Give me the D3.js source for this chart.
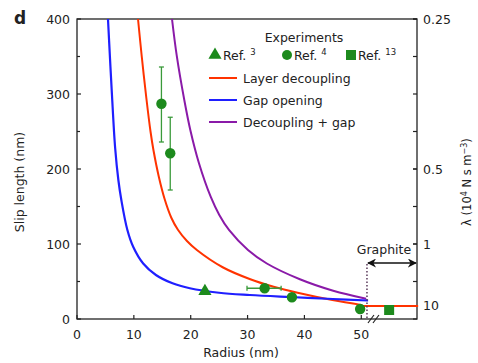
<!DOCTYPE html>
<html>
<head>
<meta charset="utf-8">
<script src="https://cdn.jsdelivr.net/npm/d3@7"></script>
<style>
  body { margin: 0; background: #fff; }
  text { font-family: "DejaVu Sans", sans-serif; fill: #222; }
</style>
</head>
<body>
<svg id="svg" width="478" height="363"></svg>
<script>
// radius (nm), slip length (nm)
var gapOpening = [[5.45,400],[5.78,351],[6.14,300],[6.71,228],[7.28,185],[7.79,159],[8.85,119],[9.9,96],[11.64,74],[13.88,58.7],[16.8,47.6],[19.84,41],[24.98,35],[30.4,32],[37.5,29.3],[45,26.7],[51.2,24.7]];
var layerDecoupling = [[10.73,400],[11.39,350],[12.19,295],[12.93,250],[13.45,225],[14.38,190],[15.41,160],[16.59,135],[17.75,119],[19.34,104],[21.08,92],[25.62,69],[30.48,53],[34.58,43],[38.8,35],[44.92,25.3],[50.19,18.5]];
var graphiteLine = [[50.3,17.5],[60,17.5]];
var decouplingGap = [[16.71,400],[17.55,350.7],[18.87,292],[19.93,252],[21.44,208],[23.53,162.7],[25.03,138.7],[26.73,118.7],[30.07,92],[33.39,74],[39.2,53],[45.06,37.7],[50.86,27]];

var ref3 = [[22.5,37]];
var ref4 = [
  {r: 14.85, s: 287, sLo: 236, sHi: 336},
  {r: 16.4, s: 221, sLo: 172, sHi: 269},
  {r: 33, s: 41, rLo: 29.9, rHi: 35.9},
  {r: 37.8, s: 29},
  {r: 49.8, s: 13.3}
];
var ref13 = [[54.9,12]];

var xTicks = [0, 10, 20, 30, 40, 50];
var yTicks = [0, 50, 100, 150, 200, 250, 300, 350, 400];
var yLabels = [0, 100, 200, 300, 400];
var lambdaLabels = ["0.25", "0.5", "1", "10"];
var lambdaSlip = [400, 200, 100, 17.5];
var graphiteStart = 51;

var legendLines = [
  {name: "Layer decoupling", color: "#ff3300"},
  {name: "Gap opening", color: "#1f1fff"},
  {name: "Decoupling + gap", color: "#8a1aa8"}
];
var refNames = ["3", "4", "13"];

var green = "#1d8a1d";

var svg = d3.select("#svg");
var x = d3.scaleLinear().domain([0, 59.8]).range([77, 417]);
var y = d3.scaleLinear().domain([0, 400]).range([319, 19]);

// frame
svg.append("rect")
  .attr("x", 77).attr("y", 19)
  .attr("width", 340).attr("height", 300)
  .attr("fill", "none").attr("stroke", "#222").attr("stroke-width", 1.3);

// x ticks (inward)
svg.append("g").selectAll("line").data(xTicks).enter().append("line")
  .attr("x1", d => x(d)).attr("x2", d => x(d))
  .attr("y1", 319).attr("y2", 315)
  .attr("stroke", "#222").attr("stroke-width", 1.2);
svg.append("g").selectAll("text").data(xTicks).enter().append("text")
  .attr("x", d => x(d)).attr("y", 339)
  .attr("text-anchor", "middle").attr("font-size", 12.5)
  .text(d => d);

// left ticks
svg.append("g").selectAll("line").data(yTicks).enter().append("line")
  .attr("x1", 77).attr("x2", d => d % 100 === 0 ? 81 : 80)
  .attr("y1", d => y(d)).attr("y2", d => y(d))
  .attr("stroke", "#222").attr("stroke-width", 1.2);
svg.append("g").selectAll("text").data(yLabels).enter().append("text")
  .attr("x", 70).attr("y", d => y(d) + 4.5)
  .attr("text-anchor", "end").attr("font-size", 12.5)
  .text(d => d);

// right ticks
svg.append("g").selectAll("line").data(yTicks.concat(lambdaSlip)).enter().append("line")
  .attr("x1", 417).attr("x2", 413)
  .attr("y1", d => y(d)).attr("y2", d => y(d))
  .attr("stroke", "#222").attr("stroke-width", 1.2);
svg.append("g").selectAll("text").data(lambdaLabels).enter().append("text")
  .attr("x", 423).attr("y", (d, i) => y(lambdaSlip[i]) + 4.5)
  .attr("font-size", 12.5)
  .text(d => d);

// axis titles
svg.append("text")
  .attr("x", 241).attr("y", 357)
  .attr("text-anchor", "middle").attr("font-size", 12.5)
  .text("Radius (nm)");
svg.append("text")
  .attr("transform", "translate(23.5,182) rotate(-90)")
  .attr("text-anchor", "middle").attr("font-size", 12.5)
  .text("Slip length (nm)");
var rt = svg.append("text")
  .attr("transform", "translate(471,182) rotate(-90)")
  .attr("text-anchor", "middle").attr("font-size", 11.5);
rt.append("tspan").text("λ (10");
rt.append("tspan").attr("font-size", 8).attr("dy", -4).text("4");
rt.append("tspan").attr("dy", 4).text(" N s m");
rt.append("tspan").attr("font-size", 8).attr("dy", -4).text("−3");
rt.append("tspan").attr("dy", 4).text(")");

svg.append("text")
  .attr("x", 14).attr("y", 24)
  .attr("font-size", 17).attr("font-weight", "bold")
  .text("d");

// curves
var line = d3.line()
  .x(d => x(d[0])).y(d => y(d[1]))
  .curve(d3.curveCatmullRom.alpha(0.5));

svg.append("path").datum(graphiteLine).attr("d", line)
  .attr("fill", "none").attr("stroke", legendLines[0].color).attr("stroke-width", 2);
svg.append("path").datum(decouplingGap).attr("d", line)
  .attr("fill", "none").attr("stroke", legendLines[2].color).attr("stroke-width", 2);
svg.append("path").datum(layerDecoupling).attr("d", line)
  .attr("fill", "none").attr("stroke", legendLines[0].color).attr("stroke-width", 2);
svg.append("path").datum(gapOpening).attr("d", line)
  .attr("fill", "none").attr("stroke", legendLines[1].color).attr("stroke-width", 2.2);

// graphite marker
svg.append("line")
  .attr("x1", x(graphiteStart)).attr("x2", x(graphiteStart))
  .attr("y1", 264).attr("y2", 319)
  .attr("stroke", "#5a3a5a").attr("stroke-width", 1.5)
  .attr("stroke-dasharray", "1.5,2");

var defs = svg.append("defs");
defs.append("marker").attr("id", "ah")
  .attr("viewBox", "0 0 10 10").attr("refX", 9).attr("refY", 5)
  .attr("markerWidth", 9).attr("markerHeight", 9).attr("markerUnits", "userSpaceOnUse")
  .attr("orient", "auto-start-reverse")
  .append("path").attr("d", "M0,0 L10,5 L0,10 L3,5 Z").attr("fill", "#111");
svg.append("line")
  .attr("x1", x(graphiteStart) + 1).attr("x2", 416)
  .attr("y1", 263).attr("y2", 263)
  .attr("stroke", "#111").attr("stroke-width", 1.4)
  .attr("marker-start", "url(#ah)").attr("marker-end", "url(#ah)");
svg.append("text")
  .attr("x", 384).attr("y", 254)
  .attr("text-anchor", "middle").attr("font-size", 12.5)
  .text("Graphite");

// axis break
svg.append("g").selectAll("line").data([0, 1]).enter().append("line")
  .attr("x1", d => x(graphiteStart) + 1 + d * 5).attr("x2", d => x(graphiteStart) + 7 + d * 5)
  .attr("y1", 323).attr("y2", 315)
  .attr("stroke", "#222").attr("stroke-width", 1.2);

// data: error bars
var eb = svg.append("g").attr("stroke", "#3a9a3a").attr("stroke-width", 1.3);
ref4.filter(d => d.sLo !== undefined).forEach(d => {
  eb.append("line").attr("x1", x(d.r)).attr("x2", x(d.r)).attr("y1", y(d.sLo)).attr("y2", y(d.sHi));
  eb.append("line").attr("x1", x(d.r) - 2.5).attr("x2", x(d.r) + 2.5).attr("y1", y(d.sLo)).attr("y2", y(d.sLo));
  eb.append("line").attr("x1", x(d.r) - 2.5).attr("x2", x(d.r) + 2.5).attr("y1", y(d.sHi)).attr("y2", y(d.sHi));
});
ref4.filter(d => d.rLo !== undefined).forEach(d => {
  eb.append("line").attr("x1", x(d.rLo)).attr("x2", x(d.rHi)).attr("y1", y(d.s)).attr("y2", y(d.s));
  eb.append("line").attr("x1", x(d.rLo)).attr("x2", x(d.rLo)).attr("y1", y(d.s) - 2.5).attr("y2", y(d.s) + 2.5);
  eb.append("line").attr("x1", x(d.rHi)).attr("x2", x(d.rHi)).attr("y1", y(d.s) - 2.5).attr("y2", y(d.s) + 2.5);
});

svg.append("g").selectAll("circle").data(ref4).enter().append("circle")
  .attr("cx", d => x(d.r)).attr("cy", d => y(d.s)).attr("r", 5.2)
  .attr("fill", green);
svg.append("g").selectAll("path").data(ref3).enter().append("path")
  .attr("transform", d => "translate(" + x(d[0]) + "," + y(d[1]) + ")")
  .attr("d", d3.symbol(d3.symbolTriangle, 75))
  .attr("fill", green);
svg.append("g").selectAll("rect").data(ref13).enter().append("rect")
  .attr("x", d => x(d[0]) - 5).attr("y", d => y(d[1]) - 5)
  .attr("width", 10).attr("height", 10)
  .attr("fill", green);

// legend
var lg = svg.append("g");
lg.append("text").attr("x", 304).attr("y", 42)
  .attr("text-anchor", "middle").attr("font-size", 12.5)
  .text("Experiments");

var refX = [215, 287, 351];
var refTextX = [223, 294, 358];
lg.append("path").attr("transform", "translate(" + refX[0] + ",55)")
  .attr("d", d3.symbol(d3.symbolTriangle, 75)).attr("fill", green);
lg.append("circle").attr("cx", refX[1]).attr("cy", 55).attr("r", 5).attr("fill", green);
lg.append("rect").attr("x", refX[2] - 5).attr("y", 50).attr("width", 10).attr("height", 10).attr("fill", green);
refNames.forEach((n, i) => {
  var t = lg.append("text").attr("x", refTextX[i]).attr("y", 60).attr("font-size", 12.5);
  t.append("tspan").text("Ref. ");
  t.append("tspan").attr("font-size", 8.5).attr("dy", -5).text(n);
});

legendLines.forEach((d, i) => {
  var ly = 78 + i * 22;
  lg.append("line").attr("x1", 209).attr("x2", 237).attr("y1", ly).attr("y2", ly)
    .attr("stroke", d.color).attr("stroke-width", 2);
  lg.append("text").attr("x", 243).attr("y", ly + 4.5).attr("font-size", 12.5).text(d.name);
});
</script>
</body>
</html>
